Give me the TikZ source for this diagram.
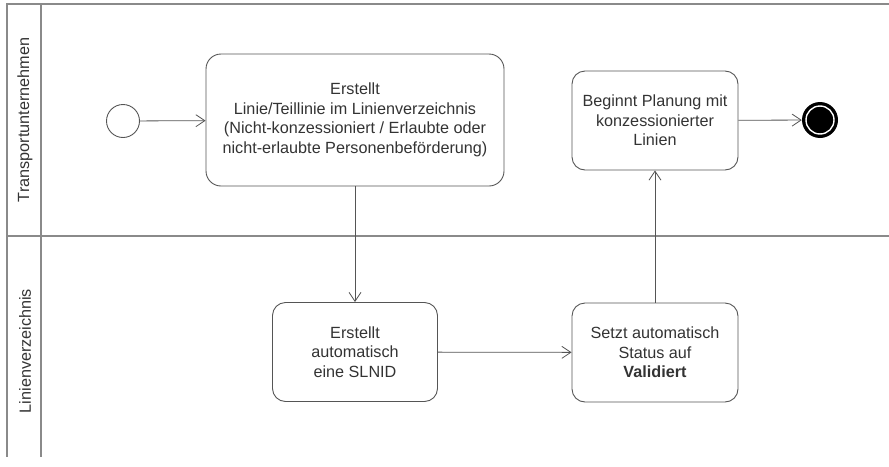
\documentclass[tikz,border=0pt]{standalone}
\usepackage{fontspec}
\setmainfont{Liberation Sans}
\usetikzlibrary{arrows.meta}
\definecolor{lanegray}{HTML}{8A8A8A}
\definecolor{boxgray}{HTML}{555555}
\definecolor{txtgray}{HTML}{333333}
\begin{document}
\begin{tikzpicture}[x=1pt,y=-1pt,
  font=\fontsize{16.2}{19.5}\selectfont,
  lane/.style={draw=lanegray,line width=1.4pt},
  action/.style={draw=boxgray,line width=0.9pt,rounded corners=13pt,
    align=center,inner sep=0pt,text=txtgray},
  flow/.style={draw=boxgray,line width=0.8pt,
    -{Straight Barb[length=9pt,width=12pt,line width=0.8pt]}},
  lanelabel/.style={rotate=90,text=txtgray,inner sep=0pt}]
\useasboundingbox (0,0) rectangle (889,466);

% swimlane frame
\draw[lane] (889,4) -- (7,4) -- (7,457);
\draw[lane] (41,4) -- (41,457);
\draw[lane] (7,236) -- (889,236);
\node[lanelabel] (l1) at (25,120) {Transportunternehmen};
\node[lanelabel] (l2) at (25,351) {Linienverzeichnis};

% start and end states
\node[circle,draw=boxgray,line width=0.9pt,minimum size=33pt,inner sep=0pt] (start) at (123,121) {};
\node[circle,fill=black,minimum size=36pt,inner sep=0pt] (end) at (820,120) {};
\draw[white,line width=1.4pt] (end.center) circle (14pt);

% actions
\node[action,rounded corners=15pt,minimum width=298pt,minimum height=132pt] (create) at (355,120)
  {Erstellt\\Linie/Teillinie im Linienverzeichnis\\(Nicht-konzessioniert / Erlaubte oder\\nicht-erlaubte Personenbeförderung)};
\node[action,minimum width=166pt,minimum height=99pt] (plan) at (655,120.5)
  {Beginnt Planung mit\\konzessionierter\\Linien};
\node[action,minimum width=165pt,minimum height=99pt] (slnid) at (355,352)
  {Erstellt\\automatisch\\eine SLNID};
\node[action,minimum width=166pt,minimum height=99pt] (status) at (655,352.5)
  {Setzt automatisch\\Status auf\\\textbf{Validiert}};

% control flow
\draw[flow] (start) -- (create);
\draw[flow] (create) -- (slnid);
\draw[flow] (slnid) -- (status);
\draw[flow] (status) -- (plan);
\draw[flow] (plan) -- (end);
\end{tikzpicture}
\end{document}
